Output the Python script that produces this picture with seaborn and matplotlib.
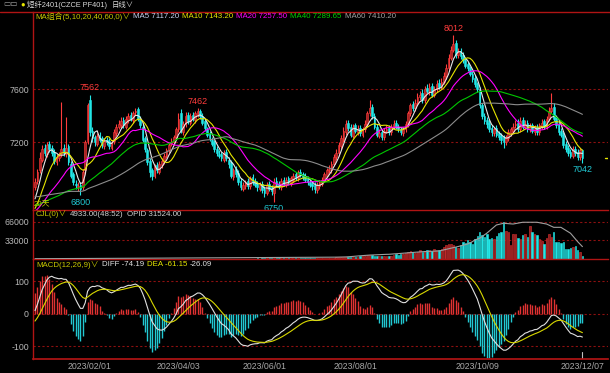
import numpy as np
import pandas as pd
import matplotlib.pyplot as plt
import seaborn as sns
from matplotlib.lines import Line2D

# daily candles, PF401
opens = [6860, 6910, 6990, 7070, 7160, 7110, 7190, 7160, 7130, 7050,
         7080, 7110, 7160, 7110, 7170, 7040, 6960, 6890, 6860, 6880,
         6860, 6990, 7210, 7520, 7290, 7240, 7190, 7260, 7230, 7170,
         7220, 7210, 7160, 7210, 7270, 7320, 7330, 7370, 7320, 7370,
         7410, 7370, 7430, 7450, 7380, 7320, 7230, 7140, 7060, 6990,
         6950, 7030, 6980, 7030, 7060, 7100, 7140, 7190, 7200, 7240,
         7300, 7420, 7280, 7340, 7410, 7350, 7410, 7370, 7410, 7440,
         7400, 7360, 7300, 7270, 7220, 7200, 7150, 7110, 7110, 7070,
         7130, 7070, 7050, 6940, 7000, 6970, 6910, 6850, 6870, 6910,
         6870, 6940, 6910, 6890, 6850, 6890, 6850, 6820, 6890, 6860,
         6820, 6910, 6890, 6860, 6920, 6880, 6930, 6890, 6920, 6960,
         6930, 6980, 6960, 6950, 6930, 6900, 6890, 6880, 6840, 6870,
         6890, 6920, 6950, 6990, 6990, 7040, 7090, 7120, 7170, 7220,
         7280, 7350, 7320, 7250, 7330, 7280, 7310, 7260, 7300, 7340,
         7420, 7470, 7400, 7320, 7250, 7280, 7240, 7290, 7310, 7280,
         7320, 7350, 7320, 7300, 7270, 7300, 7340, 7420, 7490, 7460,
         7500, 7540, 7570, 7520, 7610, 7580, 7630, 7560, 7600, 7650,
         7620, 7660, 7700, 7760, 7840, 7900, 7950, 7860, 7890, 7860,
         7820, 7790, 7760, 7720, 7690, 7640, 7600, 7480, 7400, 7370,
         7350, 7310, 7270, 7310, 7270, 7250, 7240, 7200, 7230, 7270,
         7290, 7330, 7350, 7300, 7370, 7320, 7350, 7300, 7330, 7280,
         7320, 7280, 7320, 7360, 7320, 7380, 7440, 7470, 7390, 7340,
         7290, 7260, 7190, 7160, 7130, 7100, 7150, 7130, 7090, 7140]
highs = [6930, 7000, 7127, 7180, 7190, 7200, 7210, 7180, 7150, 7110,
         7130, 7505, 7190, 7392, 7190, 7060, 6980, 6920, 6900, 6900,
         7000, 7220, 7500, 7562, 7320, 7260, 7270, 7280, 7250, 7230,
         7240, 7230, 7220, 7300, 7340, 7370, 7390, 7390, 7400, 7420,
         7430, 7440, 7460, 7470, 7400, 7340, 7250, 7160, 7080, 7010,
         7040, 7050, 7060, 7080, 7120, 7160, 7200, 7230, 7260, 7320,
         7420, 7450, 7360, 7430, 7430, 7420, 7430, 7440, 7462, 7450,
         7420, 7380, 7320, 7290, 7240, 7220, 7170, 7140, 7130, 7140,
         7150, 7090, 7070, 7010, 7020, 6990, 6930, 6900, 6920, 6930,
         6950, 6960, 6930, 6910, 6900, 6910, 6870, 6900, 6910, 6880,
         6930, 6940, 6910, 6930, 6940, 6940, 6950, 6950, 6970, 6980,
         6990, 7000, 6980, 6970, 6950, 6920, 6910, 6900, 6900, 6920,
         6940, 6980, 7010, 7030, 7060, 7110, 7150, 7200, 7260, 7320,
         7370, 7370, 7340, 7340, 7350, 7330, 7330, 7320, 7370, 7440,
         7520, 7490, 7420, 7340, 7300, 7300, 7310, 7330, 7330, 7340,
         7370, 7370, 7340, 7320, 7320, 7360, 7440, 7500, 7510, 7530,
         7570, 7590, 7600, 7630, 7640, 7650, 7650, 7630, 7670, 7680,
         7690, 7730, 7790, 7870, 7930, 8012, 7970, 7910, 7910, 7880,
         7840, 7810, 7780, 7740, 7710, 7660, 7620, 7500, 7420, 7390,
         7370, 7330, 7320, 7330, 7290, 7270, 7260, 7260, 7300, 7320,
         7350, 7370, 7380, 7390, 7390, 7370, 7370, 7350, 7350, 7330,
         7340, 7350, 7380, 7380, 7400, 7470, 7570, 7500, 7410, 7360,
         7310, 7280, 7210, 7180, 7150, 7170, 7170, 7150, 7160, 7150]
lows = [6840, 6890, 6970, 7050, 7100, 7090, 7130, 7100, 7040, 7030,
        7060, 7090, 7100, 7090, 7030, 6930, 6880, 6850, 6830, 6800,
        6840, 6970, 7190, 7250, 7200, 7170, 7170, 7200, 7160, 7150,
        7180, 7150, 7140, 7190, 7250, 7300, 7310, 7310, 7300, 7350,
        7360, 7350, 7410, 7360, 7310, 7200, 7130, 7030, 6940, 6920,
        6930, 6970, 6960, 7010, 7040, 7080, 7120, 7170, 7180, 7220,
        7280, 7270, 7260, 7320, 7340, 7330, 7360, 7350, 7390, 7380,
        7330, 7290, 7240, 7210, 7170, 7130, 7100, 7080, 7060, 7050,
        7060, 7010, 6930, 6920, 6940, 6880, 6840, 6830, 6850, 6850,
        6850, 6880, 6860, 6830, 6830, 6820, 6790, 6800, 6830, 6800,
        6750, 6860, 6850, 6840, 6870, 6860, 6880, 6870, 6900, 6920,
        6910, 6940, 6920, 6900, 6880, 6860, 6840, 6820, 6820, 6850,
        6870, 6900, 6930, 6970, 6970, 7020, 7070, 7100, 7150, 7200,
        7260, 7290, 7240, 7230, 7270, 7260, 7250, 7240, 7280, 7320,
        7400, 7380, 7300, 7240, 7230, 7220, 7220, 7270, 7260, 7260,
        7300, 7300, 7280, 7260, 7250, 7280, 7320, 7400, 7440, 7440,
        7480, 7520, 7500, 7500, 7570, 7560, 7540, 7540, 7580, 7600,
        7600, 7640, 7680, 7740, 7820, 7880, 7840, 7840, 7830, 7800,
        7760, 7740, 7700, 7660, 7620, 7580, 7460, 7380, 7340, 7310,
        7280, 7250, 7250, 7240, 7220, 7190, 7160, 7180, 7210, 7250,
        7270, 7310, 7280, 7280, 7300, 7300, 7280, 7280, 7270, 7260,
        7260, 7260, 7300, 7300, 7300, 7360, 7420, 7360, 7310, 7260,
        7240, 7160, 7130, 7100, 7080, 7080, 7100, 7070, 7070, 7042]
closes = [6900, 6980, 7080, 7150, 7120, 7180, 7150, 7120, 7060, 7090,
          7100, 7150, 7120, 7160, 7050, 6950, 6900, 6880, 6870, 6850,
          6980, 7200, 7480, 7280, 7230, 7200, 7250, 7220, 7180, 7210,
          7200, 7170, 7200, 7280, 7320, 7340, 7360, 7330, 7380, 7400,
          7380, 7420, 7440, 7380, 7330, 7220, 7150, 7050, 6980, 6950,
          7020, 6990, 7040, 7060, 7100, 7140, 7180, 7200, 7240, 7300,
          7380, 7290, 7340, 7400, 7360, 7400, 7380, 7420, 7440, 7400,
          7350, 7310, 7260, 7230, 7190, 7150, 7120, 7100, 7080, 7120,
          7080, 7040, 6950, 6990, 6960, 6900, 6860, 6880, 6900, 6870,
          6930, 6900, 6880, 6860, 6880, 6840, 6820, 6880, 6850, 6830,
          6900, 6880, 6870, 6910, 6890, 6920, 6900, 6930, 6950, 6940,
          6970, 6960, 6940, 6920, 6900, 6880, 6870, 6850, 6880, 6900,
          6920, 6960, 6990, 7000, 7040, 7090, 7120, 7180, 7230, 7290,
          7340, 7310, 7260, 7320, 7290, 7300, 7270, 7300, 7340, 7420,
          7460, 7400, 7320, 7260, 7270, 7240, 7290, 7300, 7280, 7320,
          7340, 7320, 7300, 7280, 7300, 7340, 7420, 7480, 7460, 7500,
          7540, 7560, 7520, 7600, 7590, 7620, 7560, 7600, 7640, 7620,
          7660, 7700, 7760, 7840, 7900, 7940, 7860, 7880, 7850, 7820,
          7780, 7760, 7720, 7680, 7640, 7600, 7480, 7400, 7360, 7340,
          7300, 7280, 7300, 7260, 7240, 7220, 7200, 7240, 7280, 7300,
          7320, 7340, 7300, 7360, 7320, 7340, 7300, 7320, 7290, 7310,
          7280, 7330, 7350, 7320, 7380, 7440, 7460, 7380, 7330, 7280,
          7260, 7180, 7150, 7120, 7100, 7150, 7120, 7090, 7140, 7085]
volumes = [320, 410, 280, 350, 260, 300, 380, 240, 310, 290,
           450, 520, 330, 380, 400, 360, 290, 310, 270, 340,
           420, 610, 780, 690, 430, 350, 300, 280, 320, 260,
           300, 280, 350, 410, 380, 330, 360, 300, 420, 390,
           370, 410, 450, 480, 400, 520, 560, 610, 530, 470,
           420, 390, 450, 410, 380, 430, 460, 400, 440, 500,
           560, 620, 480, 520, 470, 430, 450, 500, 540, 490,
           520, 560, 580, 600, 640, 620, 580, 560, 600, 540,
           620, 680, 760, 700, 740, 820, 860, 780, 720, 800,
           760, 820, 880, 900, 840, 960, 1020, 940, 980, 1050,
           1200, 1080, 1010, 1120, 1060, 1100, 1150, 1090, 1180, 1210,
           1250, 1180, 1300, 1270, 1350, 1420, 1380, 1460, 1500, 1440,
           1600, 1750, 1820, 1900, 2100, 2400, 2700, 3100, 3500, 3800,
           4200, 3600, 3900, 3400, 3700, 4100, 4500, 5200, 6100, 6800,
           7200, 6400, 5800, 5200, 5600, 4900, 5300, 5100, 5500, 6200,
           7400, 8200, 7600, 8800, 9400, 10200, 12500, 14800, 12100, 11400,
           13200, 15600, 12800, 14700, 16900, 15200, 13800, 17400, 16100, 15500,
           18200, 21500, 24800, 26900, 27600, 25800, 22100, 19400, 24600, 31200,
           28500, 33100, 29700, 27400, 35800, 41200, 47300, 42800, 38600, 44100,
           36500, 37200, 34800, 41500, 45600, 48900, 66000, 49200, 47800, 25400,
           45100, 44200, 36800, 35900, 43100, 45200, 38400, 58300, 47600, 43800,
           43200, 36100, 31800, 27400, 36900, 44800, 39200, 48100, 30200, 29600,
           27800, 30100, 18400, 17600, 20500, 21400, 22800, 15300, 12100, 4933]
open_interest = [800, 820, 850, 880, 900, 920, 950, 980, 1000, 1020,
                 1050, 1080, 1100, 1120, 1150, 1180, 1200, 1230, 1260, 1290,
                 1320, 1360, 1400, 1430, 1450, 1480, 1500, 1520, 1550, 1580,
                 1600, 1620, 1650, 1680, 1700, 1720, 1750, 1780, 1800, 1830,
                 1860, 1890, 1920, 1950, 1980, 2000, 2030, 2060, 2090, 2120,
                 2150, 2170, 2200, 2220, 2250, 2280, 2300, 2330, 2360, 2390,
                 2420, 2450, 2470, 2500, 2520, 2550, 2580, 2600, 2630, 2660,
                 2690, 2720, 2750, 2780, 2810, 2840, 2870, 2900, 2930, 2960,
                 2990, 3020, 3060, 3100, 3130, 3160, 3200, 3230, 3260, 3300,
                 3330, 3360, 3400, 3430, 3460, 3500, 3530, 3560, 3600, 3630,
                 3660, 3700, 3730, 3760, 3800, 3830, 3860, 3900, 3930, 3960,
                 4000, 4030, 4060, 4100, 4130, 4160, 4200, 4230, 4260, 4300,
                 4350, 4400, 4460, 4520, 4580, 4650, 4720, 4800, 4900, 5000,
                 5300, 5700, 6100, 6600, 7200, 7700, 8200, 8700, 9200, 9700,
                 10000, 10150, 10500, 10800, 11100, 11400, 11700, 11900, 12000, 12400,
                 12800, 13300, 13800, 14300, 14800, 15200, 15700, 16200, 16700, 17200,
                 17800, 18300, 18600, 18900, 19200, 19500, 19800, 20100, 20300, 20400,
                 21800, 23200, 24600, 26000, 27300, 28600, 30200, 31800, 33400, 35000,
                 36600, 38300, 41300, 44300, 48500, 50700, 52900, 57200, 61500, 65800,
                 71000, 76200, 81400, 86700, 88200, 89600, 91100, 90600, 90100, 89700,
                 89200, 90300, 91400, 92600, 93700, 93700, 93600, 93700, 93800, 93700,
                 93700, 92500, 91400, 90300, 89200, 86400, 83600, 80800, 80800, 80800,
                 80800, 77000, 73300, 69500, 65800, 58600, 51500, 44300, 37900, 31524]
# closes before the first visible bar, only used to warm up MA / MACD
warmup_closes = [6960, 6980, 6950, 6930, 6970, 6990, 6960, 6940, 6920, 6950,
                 6930, 6900, 6920, 6890, 6870, 6900, 6880, 6850, 6870, 6840,
                 6860, 6830, 6810, 6840, 6820, 6790, 6810, 6780, 6760, 6790,
                 6770, 6740, 6760, 6730, 6750, 6720, 6700, 6730, 6710, 6690,
                 6700, 6680, 6660, 6690, 6670, 6650, 6640, 6660, 6630, 6650,
                 6620, 6640, 6610, 6630, 6650, 6680, 6720, 6760, 6810]

tick_index = [23, 60, 96, 134, 185, 229]
tick_labels = ["2023/02/01", "2023/04/03", "2023/06/01", "2023/08/01", "2023/10/09", "2023/12/07"]
high_marks = [23, 68, 175]
low_marks = [19, 100, 229]
ma_periods = [5, 10, 20, 40, 60]
ma_colors = ["#e8e8e8", "#e6e600", "#ff00ff", "#00c800", "#8c8c8c"]

RED = "#ff3c3c"
CYAN = "#22e6e6"
FRAME = "#b01414"
GRID = "#8c1010"
LABEL = "#b8b8b8"

df = pd.DataFrame({"open": opens, "high": highs, "low": lows, "close": closes,
                   "vol": volumes, "oi": open_interest})
df["idx"] = np.arange(len(df))
up = df["close"] >= df["open"]

full = pd.Series(warmup_closes + closes, dtype=float)
nw = len(warmup_closes)
for p in ma_periods:
    df[f"ma{p}"] = full.rolling(p, min_periods=1).mean().iloc[nw:].values
ema12 = full.ewm(span=12, adjust=False).mean()
ema26 = full.ewm(span=26, adjust=False).mean()
diff = ema12 - ema26
dea = diff.ewm(span=9, adjust=False).mean()
df["diff"] = diff.iloc[nw:].values
df["dea"] = dea.iloc[nw:].values
df["macd"] = 2 * (df["diff"] - df["dea"])

sns.set_theme(style="dark", rc={"axes.facecolor": "black", "figure.facecolor": "black"})
plt.rcParams["font.family"] = ["Liberation Sans", "Noto Sans CJK SC", "DejaVu Sans"]

W, H = 610, 373
fig = plt.figure(figsize=(W / 100, H / 100), dpi=100, facecolor="black")


def box(x0, y0, x1, y1):
    return [x0 / W, 1 - y1 / H, (x1 - x0) / W, (y1 - y0) / H]


ax_p = fig.add_axes(box(33, 12, 608, 210))
ax_v = fig.add_axes(box(33, 210, 608, 259), sharex=ax_p)
ax_m = fig.add_axes(box(33, 259, 608, 359), sharex=ax_p)

for ax in (ax_p, ax_v, ax_m):
    ax.set_facecolor("black")
    ax.grid(False)
    for s in ("right", "bottom"):
        ax.spines[s].set_visible(False)
    ax.spines["left"].set_color(FRAME)
    ax.spines["top"].set_color(FRAME)
    ax.spines["left"].set_linewidth(1.0)
    ax.spines["top"].set_linewidth(1.0)
    ax.tick_params(axis="both", length=0, colors=LABEL, labelsize=6.3, pad=3)
    ax.tick_params(axis="x", labelbottom=False)
ax_m.spines["bottom"].set_visible(True)
ax_m.spines["bottom"].set_color(FRAME)
ax_p.spines["top"].set_visible(False)
fig.add_artist(Line2D([0, 1], [1 - 12 / H] * 2, color=FRAME, lw=1.0))

ax_p.set_xlim(-0.84, 239.7)
ax_p.set_ylim(6690, 8185)
ax_v.set_ylim(0, 87400)
ax_m.set_ylim(-138.5, 169)

# candles
x = df["idx"].values
ax_p.vlines(x, df["low"], df["high"], colors=np.where(up, RED, CYAN), lw=0.8, zorder=2)
body_lo = np.minimum(df["open"], df["close"])
body_h = np.maximum((df["close"] - df["open"]).abs(), 3)
ax_p.bar(x, body_h, bottom=body_lo, width=0.72, color=np.where(up, "#a82424", CYAN),
         edgecolor=np.where(up, RED, CYAN), linewidth=0.4, zorder=3)

for p, c in zip(ma_periods, ma_colors):
    sns.lineplot(x="idx", y=f"ma{p}", data=df, ax=ax_p, color=c, lw=0.8, errorbar=None, zorder=4)

for i in high_marks:
    ax_p.annotate(str(highs[i]), (i, highs[i]), xytext=(0, 1.5), textcoords="offset points",
                  ha="center", va="bottom", color=RED, fontsize=6.5)
for i in low_marks:
    ax_p.annotate(str(lows[i]), (i, lows[i]), xytext=(0, -1.5), textcoords="offset points",
                  ha="center", va="top", color="#20c8d2", fontsize=6.5)
ax_p.axhline(closes[-1], xmin=0.995, xmax=1, color="#e6e600", lw=1)

# volume + open interest
ax_v.bar(x, df["vol"], width=0.62, color=np.where(up, "#8c1e1e", CYAN),
         edgecolor=np.where(up, "#e03232", CYAN), linewidth=0.4, zorder=3)
ax_oi = ax_v.twinx()
sns.lineplot(x="idx", y="oi", data=df, ax=ax_oi, color="#a0a0a0", lw=0.8, errorbar=None)
ax_oi.set_ylim(0, 87400 * 1.43)
ax_oi.set_axis_off()

# MACD
ax_m.vlines(x, 0, df["macd"], colors=np.where(df["macd"] >= 0, "#e03232", "#22c8d2"), lw=1.0, zorder=2)
sns.lineplot(x="idx", y="diff", data=df, ax=ax_m, color="#e0e0e0", lw=0.8, errorbar=None, zorder=4)
sns.lineplot(x="idx", y="dea", data=df, ax=ax_m, color="#d8d800", lw=0.8, errorbar=None, zorder=4)
ax_m.axvline(x[-1], ymin=0, ymax=0.07, color="#c0c0c0", lw=0.8)

grid_kw = dict(color=GRID, lw=0.8, linestyle=(0, (2, 2)), zorder=1)
for ax, ticks, labels in ((ax_p, [7200, 7600], ["7200", "7600"]),
                          (ax_v, [33000, 66000], ["33000", "66000"]),
                          (ax_m, [-100, 0, 100], ["-100", "0", "100"])):
    ax.set_yticks(ticks)
    ax.set_yticklabels(labels)
    for t in ticks:
        ax.axhline(t, **grid_kw)
    ax.set_ylabel("")
    ax.set_xlabel("")

ax_m.set_xticks(tick_index)
ax_m.set_xticklabels(tick_labels)
ax_m.tick_params(axis="x", labelbottom=True, colors="#a8a8a8", labelsize=6.3, pad=2.5)

# header texts, laid out left to right so they never overlap
renderer = fig.canvas.get_renderer()


def text_row(x0, y, parts, gap=3, fs=5.7):
    xpos = x0
    for s, c in parts:
        t = fig.text(xpos / W, 1 - y / H, s, color=c, fontsize=fs, va="center")
        xpos = t.get_window_extent(renderer).x1 + gap


text_row(3, 5, [("▭▭", "#a0a0a0"), ("●", "#e6e600")], fs=5.5)
text_row(27, 5, [("短纤2401(CZCE PF401)", "#d8d8d8"), ("日线∨", "#d8d8d8")], gap=5, fs=5.3)
text_row(35, 17, [("MA组合(5,10,20,40,60,0)∨", "#c8c800"), ("MA5 7117.20", "#c8d2f0"),
                  ("MA10 7143.20", "#e6e600"), ("MA20 7257.50", "#ff00ff"),
                  ("MA40 7289.65", "#00d200"), ("MA60 7410.20", "#a0a0a0")])
text_row(34, 204, [("20天", "#c8c800")])
text_row(36, 214, [("CJL(0)∨", "#c8c800"), ("4933.00(48:52)", "#d0d0d0"),
                   ("OPID 31524.00", "#d0d0d0")])
text_row(36, 265, [("MACD(12,26,9)∨", "#c8c800"), ("DIFF -74.19", "#e0e0e0"),
                   ("DEA -61.15", "#e6e600"), ("-26.09", "#e0e0e0")])

fig.savefig("out.png", dpi=100, facecolor="black")
